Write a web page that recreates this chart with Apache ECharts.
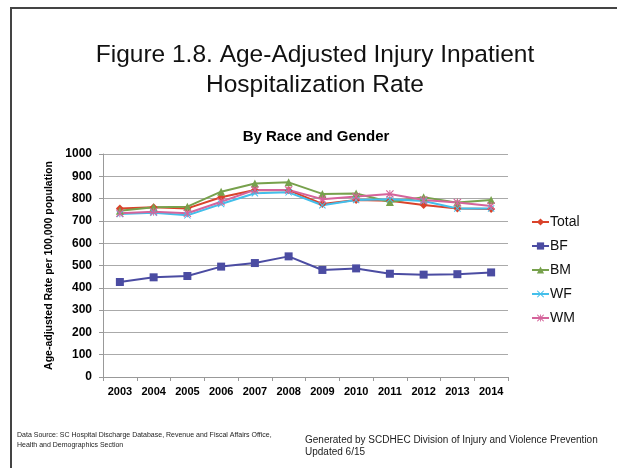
<!DOCTYPE html>
<html><head><meta charset="utf-8">
<script src="https://cdn.jsdelivr.net/npm/echarts@6/dist/echarts.min.js"></script>
<style>html,body{margin:0;padding:0;background:#fff;}#c{width:617px;height:468px;}</style>
</head><body><div id="c"></div>
<script>
const years = ['2003','2004','2005','2006','2007','2008','2009','2010','2011','2012','2013','2014'];
const total = [756, 761, 756, 806, 839, 838, 776, 794, 790, 771, 756, 753];
const bf = [426, 447, 453, 495, 511, 541, 480, 487, 463, 459, 461, 469];
const bm = [746, 761, 764, 831, 868, 873, 821, 823, 785, 806, 782, 794];
const wf = [731, 737, 725, 776, 824, 828, 770, 794, 797, 789, 756, 756];
const wm = [734, 741, 734, 786, 839, 839, 797, 809, 821, 794, 782, 767];
const yTicks = [0,100,200,300,400,500,600,700,800,900,1000];

const F = "'Liberation Sans', Arial, sans-serif";
const xPath = 'path://M0,1L1,0L5,4L9,0L10,1L6,5L10,9L9,10L5,6L1,10L0,9L4,5Z';
const starPath = 'path://M0,1L1,0L4.4,3.4L4.4,0L5.6,0L5.6,3.4L9,0L10,1L6,5L10,9L9,10L5.6,6.6L5.6,10L4.4,10L4.4,6.6L1,10L0,9L4,5Z';

function mk(name, data, color, symbol, size) {
  return {
    name, type: 'line', data, symbol, symbolSize: size,
    lineStyle: { color, width: 2 },
    itemStyle: { color },
    emphasis: { disabled: true }
  };
}

const chart = echarts.init(document.getElementById('c'));
chart.setOption({
  animation: false,
  backgroundColor: '#fff',
  textStyle: { fontFamily: F },
  title: [
    { text: 'Figure 1.8. Age-Adjusted Injury Inpatient\nHospitalization Rate', left: 315, top: 40, textAlign: 'center', padding: 0,
      textStyle: { fontFamily: F, fontSize: 24.5, fontWeight: 'normal', color: '#111', lineHeight: 30 } },
    { text: 'By Race and Gender', left: 316, top: 128, textAlign: 'center', padding: 0,
      textStyle: { fontFamily: F, fontSize: 15, fontWeight: 'bold', color: '#000', lineHeight: 18 } }
  ],
  graphic: [
    { type: 'rect', shape: { x: 11, y: 8, width: 700, height: 600 }, style: { fill: 'none', stroke: '#444', lineWidth: 2 } },
    { type: 'text', left: 17, top: 430, style: { text: 'Data Source: SC Hospital Discharge Database, Revenue and Fiscal Affairs Office,\nHealth and Demographics Section', font: '7px ' + F, fill: '#222', lineHeight: 10 } },
    { type: 'text', left: 305, top: 434, style: { text: 'Generated by SCDHEC Division of Injury and Violence Prevention\nUpdated 6/15', font: '10px ' + F, fill: '#222', lineHeight: 12 } }
  ],
  legend: {
    orient: 'vertical', left: 526, top: 210, itemGap: 10, itemWidth: 17, itemHeight: 9,
    textStyle: { fontFamily: F, fontSize: 14, color: '#111', padding: [0,0,0,-4] },
    data: ['Total','BF','BM','WF','WM']
  },
  grid: { left: 103, right: 109, top: 154, bottom: 91 },
  xAxis: {
    type: 'category', data: years, boundaryGap: true,
    axisLine: { lineStyle: { color: '#999', width: 1 } },
    axisTick: { show: true, length: 4, lineStyle: { color: '#999' } },
    axisLabel: { fontFamily: F, fontSize: 11, fontWeight: 'bold', color: '#000', margin: 9 }
  },
  yAxis: {
    type: 'value', min: 0, max: 1000, interval: 100,
    name: 'Age-adjusted Rate per 100,000 population', nameLocation: 'middle', nameGap: 42, nameRotate: 90,
    nameTextStyle: { fontFamily: F, fontSize: 10.5, fontWeight: 'bold', color: '#000' },
    axisLine: { show: true, lineStyle: { color: '#999' } },
    axisTick: { show: true, length: 4, inside: false, lineStyle: { color: '#999' } },
    splitLine: { lineStyle: { color: '#aaa', width: 1 } },
    axisLabel: { fontFamily: F, fontSize: 12, fontWeight: 'bold', color: '#000', margin: 11,
      formatter: v => yTicks.includes(v) ? String(v) : '' }
  },
  series: [
    mk('Total', total, '#D9432B', 'diamond', 8),
    mk('BF', bf, '#4B4CA2', 'rect', 8),
    mk('BM', bm, '#77A14C', 'triangle', 8),
    mk('WF', wf, '#43BFEB', xPath, 7),
    mk('WM', wm, '#D5649B', starPath, 8)
  ]
});
</script></body></html>
